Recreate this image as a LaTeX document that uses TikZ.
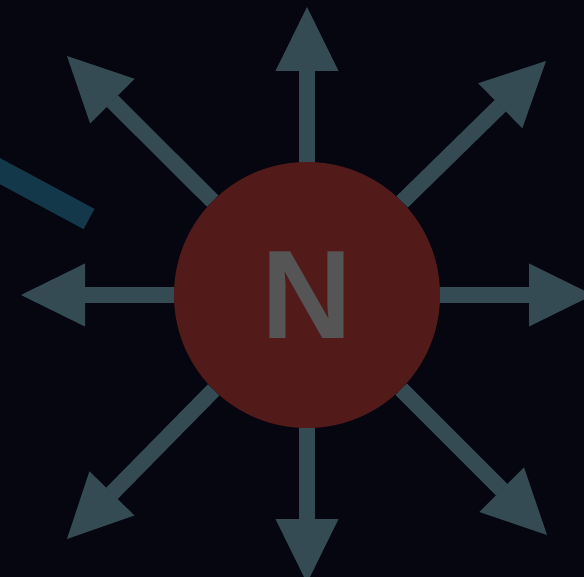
\documentclass[tikz,border=0pt]{standalone}
\usepackage{fontspec}
\newfontfamily\labelfont{Liberation Sans}
\usetikzlibrary{arrows.meta}
\definecolor{bgcol}{RGB}{6,6,16}
\definecolor{arrcol}{RGB}{52,75,84}
\definecolor{polered}{RGB}{82,27,26}
\definecolor{lettergray}{RGB}{85,85,85}
\definecolor{stripcol}{RGB}{18,56,74}
\tikzset{
  fieldarrow/.style={draw=arrcol, fill=arrcol, line width=16pt, line cap=butt,
    -{Triangle[length=64pt,width=63pt,line width=0pt]}},
  pole/.style={circle, fill=polered, minimum size=266pt, inner sep=0pt,
    text=lettergray, font=\labelfont\bfseries\fontsize{126}{126}\selectfont},
  strip/.style={draw=stripcol, line width=23pt, line cap=butt}
}
\begin{document}
\begin{tikzpicture}[x=1pt,y=-1pt]
\useasboundingbox (0,0) rectangle (584,577);
\fill[bgcol] (0,0) rectangle (584,577);
\clip (0,0) rectangle (584,577);
% tip coordinates
\coordinate (tN) at (307,7);
\coordinate (tS) at (307,583);
\coordinate (tW) at (21,295);
\coordinate (tE) at (593,295);
\coordinate (tNW) at (67,56);
\coordinate (tNE) at (546,61);
\coordinate (tSE) at (547,535);
\coordinate (tSW) at (67,539);
\coordinate (sa) at (-30,155);
\coordinate (sb) at (89,219);
\draw[strip] (sa) -- (sb);
\node[pole] (n) at (307,295) {N};
\foreach \t in {tN,tS,tW,tE,tNW,tNE,tSE,tSW}
  \draw[fieldarrow] (n) -- (\t);
\end{tikzpicture}
\end{document}
